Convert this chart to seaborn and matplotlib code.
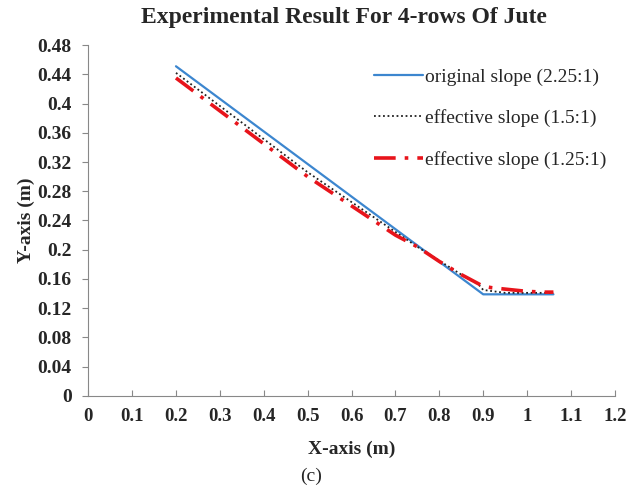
import numpy as np
import pandas as pd
import matplotlib
matplotlib.use('Agg')
import matplotlib.pyplot as plt
from matplotlib.ticker import FuncFormatter, MultipleLocator
import seaborn as sns

sns.set_style('white')
plt.rcParams['font.family'] = ['Liberation Serif', 'DejaVu Serif']

x_orig = [0.2, 0.9, 1.06]
y_orig = [0.451, 0.139, 0.139]

x_eff15 = [0.2, 0.5, 0.75, 0.85, 0.89, 0.9, 0.95, 1.0, 1.06]
y_eff15 = [0.442, 0.306, 0.204, 0.166, 0.152, 0.145, 0.141, 0.141, 0.141]

x_eff125 = [0.2, 0.5, 0.7, 0.75, 0.8, 0.85, 0.9, 0.92, 1.0, 1.04, 1.06]
y_eff125 = [0.435, 0.300, 0.220, 0.204, 0.184, 0.166, 0.150, 0.148, 0.143, 0.142, 0.142]

labels = ['original slope (2.25:1)', 'effective slope (1.5:1)', 'effective slope (1.25:1)']

plt_df = pd.concat([
    pd.DataFrame({'x': x_orig, 'y': y_orig, 'group': labels[0]}),
    pd.DataFrame({'x': x_eff15, 'y': y_eff15, 'group': labels[1]}),
    pd.DataFrame({'x': x_eff125, 'y': y_eff125, 'group': labels[2]}),
])

fig = plt.figure(figsize=(6.3, 4.9), dpi=100)
ax = fig.add_axes([0.14, 0.192, 0.836, 0.716])

palette = {labels[0]: '#3C86CF', labels[1]: '#202020', labels[2]: '#E8141B'}
sns.lineplot(data=plt_df, x='x', y='y', hue='group', palette=palette, sort=False,
             estimator=None, ax=ax, legend=False)

ax.lines[0].set_linewidth(1.6)
ax.lines[1].set_linewidth(1.3)
ax.lines[1].set_linestyle((0, (1, 1.5)))
ax.lines[2].set_linewidth(2.6)
ax.lines[2].set_linestyle((0, (6, 2.5, 1, 2.5)))

ax.set_xlim(0, 1.2)
ax.set_ylim(0, 0.48)
ax.xaxis.set_major_locator(MultipleLocator(0.1))
ax.yaxis.set_major_locator(MultipleLocator(0.04))
fmt = FuncFormatter(lambda v, p: '{:g}'.format(round(v, 2)))
ax.xaxis.set_major_formatter(fmt)
ax.yaxis.set_major_formatter(fmt)

for side in ['top', 'right']:
    ax.spines[side].set_visible(False)
for side in ['left', 'bottom']:
    ax.spines[side].set_color('#888888')
    ax.spines[side].set_linewidth(0.8)
ax.tick_params(axis='x', direction='in', length=4, color='#888888', labelsize=13.5, pad=9)
ax.tick_params(axis='y', direction='out', length=4, color='#888888', labelsize=14, pad=8)
ax.tick_params(bottom=True, left=True)
for t in ax.get_xticklabels() + ax.get_yticklabels():
    t.set_fontweight('bold')

ax.set_xlabel('X-axis (m)', fontsize=14, fontweight='bold', labelpad=11)
ax.set_ylabel('Y-axis (m)', fontsize=14, fontweight='bold', labelpad=2)
fig.text(0.546, 0.965, 'Experimental Result For 4-rows Of Jute', fontsize=17,
         fontweight='bold', ha='center', va='center')

handles = ax.lines[:3]
ax.legend(handles, labels, loc='upper left', bbox_to_anchor=(374 / 630, 1 - 68 / 490),
          bbox_transform=fig.transFigure, frameon=False, borderpad=0, borderaxespad=0,
          fontsize=14, handlelength=2.5, handletextpad=0.1, labelspacing=1.22)

fig.text(0.494, 0.018, '(c)', fontsize=14, ha='center')

fig.savefig('out.png', dpi=100)
